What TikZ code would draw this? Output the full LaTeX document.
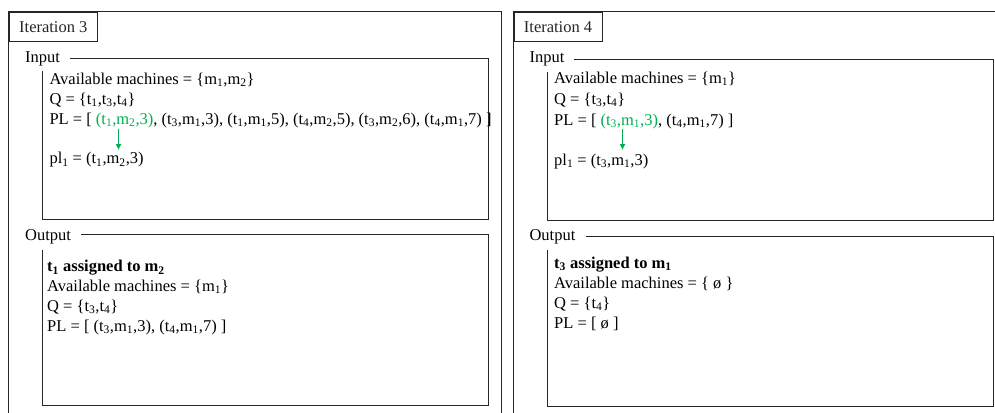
\documentclass[tikz,border=0pt]{standalone}
\usepackage{fontspec}
\setmainfont{Liberation Serif}
\usetikzlibrary{arrows.meta}
\definecolor{selgreen}{RGB}{0,176,80}
\newcommand\tsb[1]{\textsubscript{#1}}
\begin{document}
\begin{tikzpicture}[x=1pt,y=-1pt,
  frame/.style={line width=1.1pt,black!85},
  lbl/.style={draw,line width=1.1pt,black!85,anchor=north west,inner sep=0pt,font=\fontsize{16.5}{20}\selectfont},
  txt/.style={anchor=base west,inner sep=0pt,font=\fontsize{16.5}{20}\selectfont},
  pick/.style={selgreen,line width=1pt,-{Latex[length=6pt,width=6pt]}}]
\useasboundingbox (0,0) rectangle (995,412);
\fill[white] (0,0) rectangle (995,412);
% ---------------- Iteration 3 ----------------
\draw[frame] (8.5,413) -- (8.5,11.5) -- (501.5,11.5) -- (501.5,413);
\node[lbl,minimum width=88.5pt,minimum height=29.5pt] (it3) at (8.5,11.5) {Iteration 3};
\node[txt] (in3) at (25,62.5) {Input};
\draw[frame] (70,58.5) -- (488.5,58.5) -- (488.5,219.5) -- (42.5,219.5) -- (42.5,71);
\node[txt] (a3) at (49.3,84) {Available machines = \{m\tsb{1},m\tsb{2}\}};
\node[txt] (q3) at (49.3,104) {Q = \{t\tsb{1},t\tsb{3},t\tsb{4}\}};
\node[txt] (pl3) at (49.3,124) {PL = [ \textcolor{selgreen}{(t\tsb{1},m\tsb{2},3)}, (t\tsb{3},m\tsb{1},3), (t\tsb{1},m\tsb{1},5), (t\tsb{4},m\tsb{2},5), (t\tsb{3},m\tsb{2},6), (t\tsb{4},m\tsb{1},7) ]};
\node[txt] (p3) at (49.3,163.5) {pl\tsb{1} = (t\tsb{1},m\tsb{2},3)};
\coordinate (s3) at (118.5,128.5);
\coordinate (e3) at (118.5,150);
\draw[pick] (s3) -- (e3);
\node[txt] (out3) at (25,240) {Output};
\draw[frame] (81,234.5) -- (488.5,234.5) -- (488.5,405.5) -- (42.5,405.5) -- (42.5,250);
\node[txt] (r3) at (47,271.5) {\textbf{t\tsb{1} assigned to m\tsb{2}}};
\node[txt] (b3) at (47,291) {Available machines = \{m\tsb{1}\}};
\node[txt] (c3) at (47,311) {Q = \{t\tsb{3},t\tsb{4}\}};
\node[txt] (d3) at (47,331) {PL = [ (t\tsb{3},m\tsb{1},3), (t\tsb{4},m\tsb{1},7) ]};
% ---------------- Iteration 4 ----------------
\draw[frame] (513.5,413) -- (513.5,11.5) -- (996,11.5);
\node[lbl,minimum width=88pt,minimum height=29.5pt] (it4) at (513.5,11.5) {Iteration 4};
\node[txt] (in4) at (529.3,63) {Input};
\draw[frame] (574,59.5) -- (993.5,59.5) -- (993.5,220.5) -- (547.5,220.5) -- (547.5,72);
\node[txt] (a4) at (554,83) {Available machines = \{m\tsb{1}\}};
\node[txt] (q4) at (554,104) {Q = \{t\tsb{3},t\tsb{4}\}};
\node[txt] (pl4) at (554,125) {PL = [ \textcolor{selgreen}{(t\tsb{3},m\tsb{1},3)}, (t\tsb{4},m\tsb{1},7) ]};
\node[txt] (p4) at (554,165) {pl\tsb{1} = (t\tsb{3},m\tsb{1},3)};
\coordinate (s4) at (622.5,129);
\coordinate (e4) at (622.5,150);
\draw[pick] (s4) -- (e4);
\node[txt] (out4) at (529.3,240.7) {Output};
\draw[frame] (586,236.5) -- (993.5,236.5) -- (993.5,406.5) -- (547.5,406.5) -- (547.5,250);
\node[txt] (r4) at (554,268) {\textbf{t\tsb{3} assigned to m\tsb{1}}};
\node[txt] (b4) at (554,288) {Available machines = \{ ø \}};
\node[txt] (c4) at (554,308) {Q = \{t\tsb{4}\}};
\node[txt] (d4) at (554,328) {PL = [ ø ]};
\end{tikzpicture}
\end{document}
